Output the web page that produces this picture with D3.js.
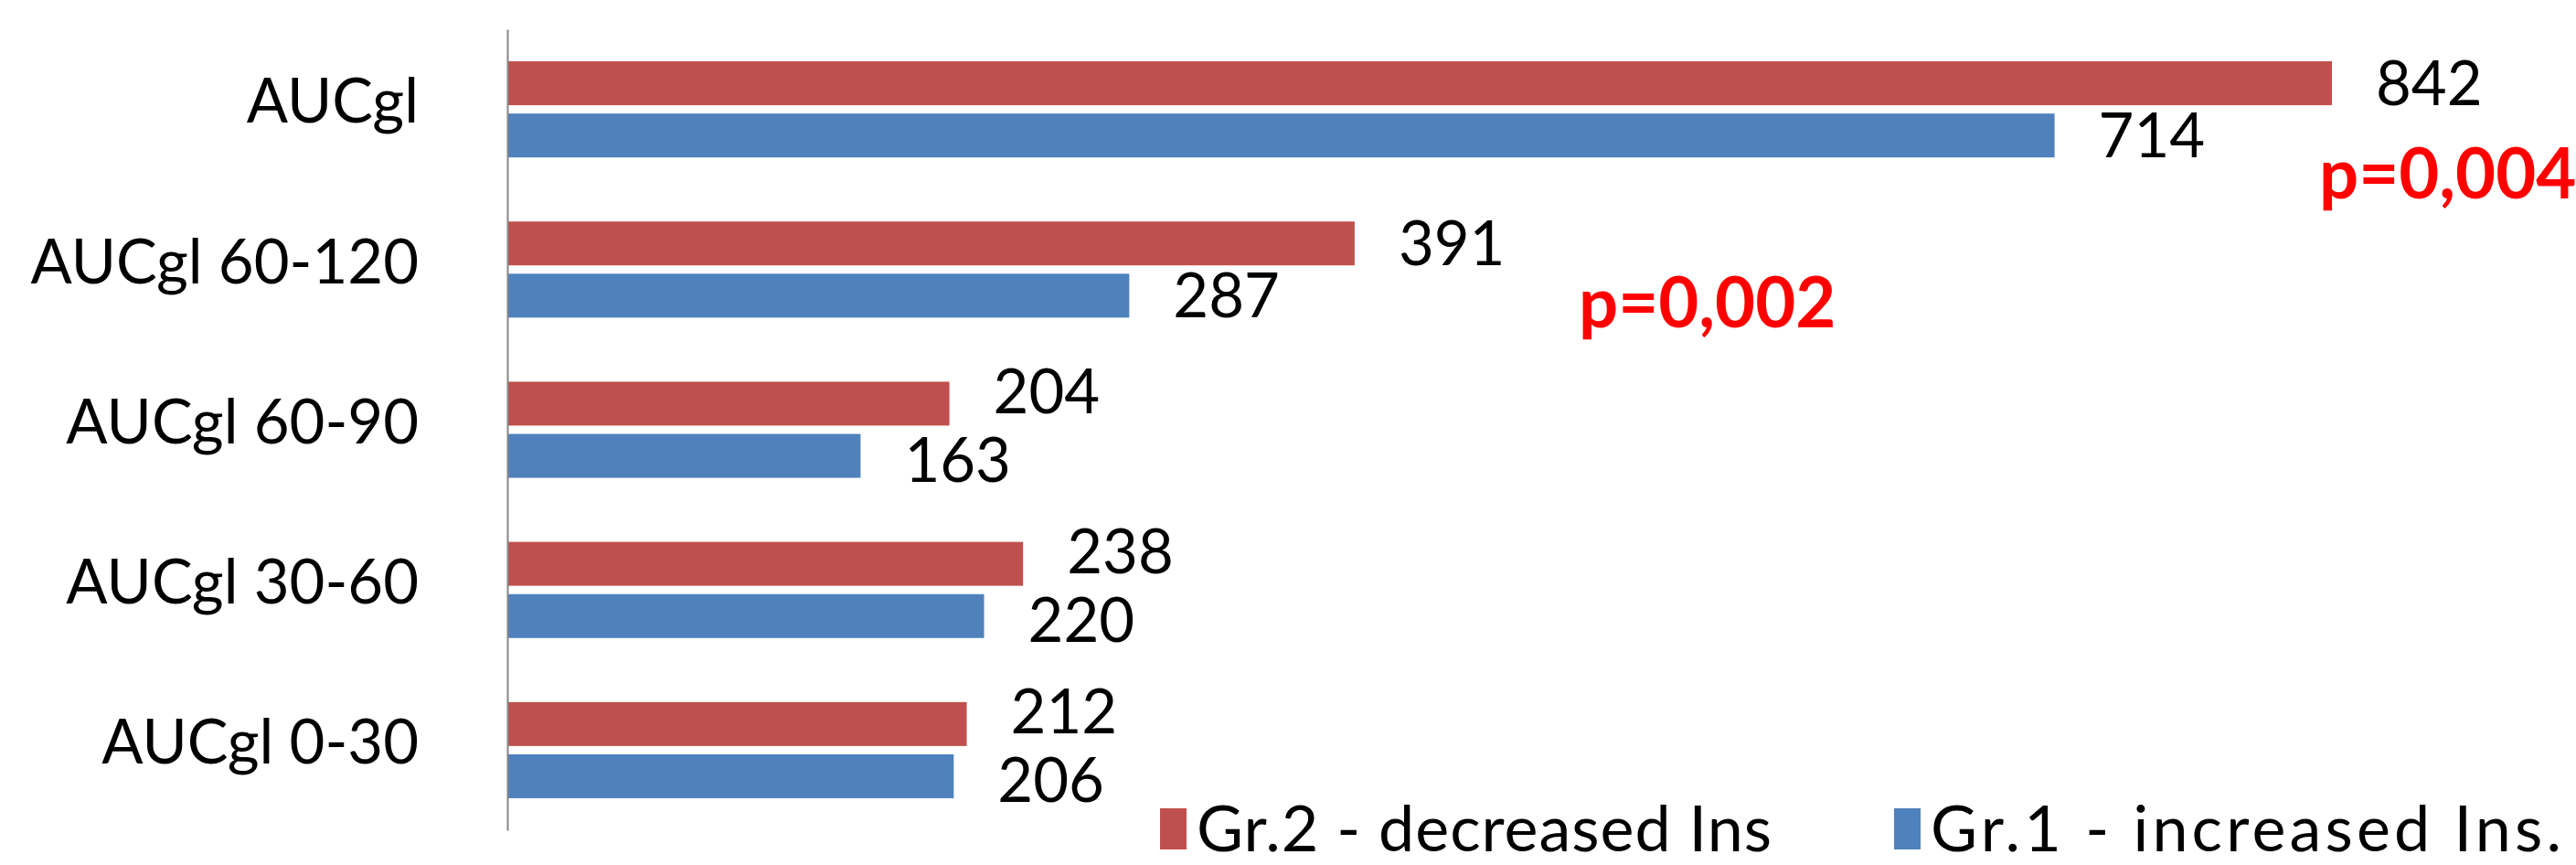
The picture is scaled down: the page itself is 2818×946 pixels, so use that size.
<!DOCTYPE html>
<html lang="en">
<head>
    <meta charset="UTF-8">
    <title>AUCgl by group</title>
    <script src="https://d3js.org/d3.v7.min.js"></script>
    <style>
        body {
            margin: 0;
            background: white;
            font-family: Lato, "Open Sans", sans-serif;
        }

        .cat-axis .domain {
            stroke: #868686;
            stroke-width: 2;
        }

        .cat-axis text {
            font-family: Lato, sans-serif;
            font-size: 67px;
            fill: #000;
        }

        .value-label {
            font-size: 67px;
            fill: #000;
        }

        .p-note {
            font-size: 76px;
            font-weight: bold;
            fill: #ff0000;
        }

        .legend-text {
            font-size: 70px;
            fill: #000;
        }
    </style>
</head>
<body>
    <div id="chart"></div>

    <script>
        // categories, top to bottom
        const categories = ['AUCgl', 'AUCgl 60-120', 'AUCgl 60-90', 'AUCgl 30-60', 'AUCgl 0-30'];
        const seriesNames = ['Gr.2 - decreased Ins', 'Gr.1 - increased Ins.'];
        const gr2Values = [842, 391, 204, 238, 212];
        const gr1Values = [714, 287, 163, 220, 206];
        const seriesColors = ['#c0504d', '#4f81bd'];
        const pNotes = ['p=0,004', 'p=0,002'];

        const width = 2818;
        const height = 946;

        const svg = d3.select('#chart')
            .append('svg')
            .attr('width', width)
            .attr('height', height);

        svg.append('rect')
            .attr('width', width)
            .attr('height', height)
            .attr('fill', 'white');

        const x = d3.scaleLinear()
            .domain([0, 842])
            .range([555, 2551]);

        const y = d3.scaleBand()
            .domain(categories)
            .range([32, 908])
            .paddingInner(0.4)
            .paddingOuter(0.2);

        const ySub = d3.scaleBand()
            .domain(seriesNames)
            .range([0, y.bandwidth()])
            .paddingInner(0.16);

        const rows = categories.map((c, i) => {
            // labels that would collide get pushed apart a bit
            const close = Math.abs(x(gr2Values[i]) - x(gr1Values[i])) < 150;
            return {
                cat: c,
                vals: [
                    {series: seriesNames[0], value: gr2Values[i], color: seriesColors[0], nudge: close ? -14 : 0},
                    {series: seriesNames[1], value: gr1Values[i], color: seriesColors[1], nudge: close ? 4 : 0}
                ]
            };
        });

        const groups = svg.append('g')
            .selectAll('g')
            .data(rows)
            .join('g')
            .attr('transform', d => `translate(0,${y(d.cat)})`);

        groups.selectAll('rect')
            .data(d => d.vals)
            .join('rect')
            .attr('x', x(0))
            .attr('y', d => ySub(d.series))
            .attr('width', d => x(d.value) - x(0))
            .attr('height', ySub.bandwidth())
            .attr('fill', d => d.color);

        groups.selectAll('text')
            .data(d => d.vals)
            .join('text')
            .attr('class', 'value-label')
            .attr('x', d => x(d.value) + 48)
            .attr('y', d => ySub(d.series) + ySub.bandwidth() / 2 + d.nudge)
            .attr('dy', '0.36em')
            .text(d => d.value);

        // category axis (line + labels)
        const axis = svg.append('g')
            .attr('class', 'cat-axis')
            .attr('transform', `translate(${x(0)},0)`)
            .call(d3.axisLeft(y).tickSize(0).tickSizeOuter(0).tickPadding(97));

        axis.selectAll('text')
            .attr('dy', '0.22em');

        // p-value notes
        svg.append('text')
            .attr('class', 'p-note')
            .attr('x', 2537)
            .attr('y', 217)
            .text(pNotes[0]);

        svg.append('text')
            .attr('class', 'p-note')
            .attr('x', 1727)
            .attr('y', 358)
            .text(pNotes[1]);

        // legend
        const legendX = [1269, 2072];
        const legendLen = [629, 690];
        const legend = svg.append('g')
            .selectAll('g')
            .data(seriesNames)
            .join('g')
            .attr('transform', (d, i) => `translate(${legendX[i]},884)`);

        legend.append('rect')
            .attr('width', 29)
            .attr('height', 45)
            .attr('fill', (d, i) => seriesColors[i]);

        legend.append('text')
            .attr('class', 'legend-text')
            .attr('x', 40)
            .attr('y', 47)
            .attr('textLength', (d, i) => legendLen[i])
            .attr('lengthAdjust', 'spacing')
            .text(d => d);
    </script>
</body>
</html>
